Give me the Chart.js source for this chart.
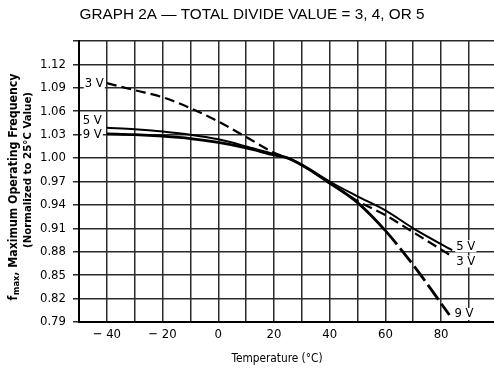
<!DOCTYPE html>
<html>
<head>
<meta charset="utf-8">
<script src="https://cdn.jsdelivr.net/npm/chart.js@4"></script>
<style>
  html, body { margin: 0; padding: 0; background: #fff; }
  #wrap { width: 494px; height: 368px; }
</style>
</head>
<body>
<div id="wrap"><canvas id="c" width="494" height="368"></canvas></div>
<script>
// Text
const chartTitle = 'GRAPH 2A \u2014 TOTAL DIVIDE VALUE = 3, 4, OR 5';
const xAxisTitle = 'Temperature (\u00B0C)';
const yTitleSymbol = 'f';
const yTitleSubscript = 'max';
const yTitleRest = ', Maximum Operating Frequency';
const yTitleLine2 = '(Normalized to 25\u00B0C Value)';

// Ticks
const xTickValues = [-40, -20, 0, 20, 40, 60, 80];
const xTickLabels = ['\u2212 40', '\u2212 20', '0', '20', '40', '60', '80'];
const yTickValues = [0.79, 0.82, 0.85, 0.88, 0.91, 0.94, 0.97, 1.00, 1.03, 1.06, 1.09, 1.12];
const yTickLabels = ['0.79', '0.82', '0.85', '0.88', '0.91', '0.94', '0.97', '1.00', '1.03', '1.06', '1.09', '1.12'];

// Series: supply voltage curves, fmax normalized to 25 °C
const seriesNames = ['3 V', '5 V', '9 V'];
const temp3V = [-40, -30, -20, -10, 0, 10, 20, 25, 30, 40, 50, 60, 70, 84];
const fmax3V = [1.096, 1.087, 1.078, 1.064, 1.047, 1.027, 1.007, 1.000, 0.991, 0.968, 0.945, 0.927, 0.905, 0.874];
const temp5V = [-40, -30, -20, -10, 0, 10, 20, 25, 30, 40, 50, 60, 70, 84];
const fmax5V = [1.039, 1.037, 1.034, 1.030, 1.024, 1.015, 1.005, 1.000, 0.992, 0.970, 0.951, 0.933, 0.910, 0.882];
const temp9V = [-40, -30, -20, -10, 0, 10, 20, 25, 30, 40, 50, 60, 70, 83];
const fmax9V = [1.031, 1.030, 1.028, 1.025, 1.020, 1.013, 1.004, 1.000, 0.991, 0.968, 0.943, 0.907, 0.863, 0.799];

const FONT_NARROW = "'Liberation Sans Narrow', 'DejaVu Sans Condensed', 'Liberation Sans', sans-serif";
const FONT_REG = "'Liberation Sans', Arial, sans-serif";

function pts(xs, ys) { return xs.map((t, i) => ({ x: t, y: ys[i] })); }

// Draws a text run squeezed horizontally to a given width
function fitText(ctx, text, x, y, width) {
  const w = ctx.measureText(text).width;
  ctx.save();
  ctx.translate(x, y);
  ctx.scale(width / w, 1);
  ctx.fillText(text, 0, 0);
  ctx.restore();
}

const textPlugin = {
  id: 'texts',
  afterDraw(chart) {
    const ctx = chart.ctx;
    ctx.save();
    ctx.fillStyle = '#000';

    // Title
    ctx.font = '15px ' + FONT_REG;
    ctx.textAlign = 'center';
    ctx.textBaseline = 'middle';
    fitText(ctx, chartTitle, 252, 15, 345);

    // X axis title
    ctx.font = '12px ' + FONT_NARROW;
    fitText(ctx, xAxisTitle, 277, 359, 91);

    // Y axis title (rotated, two lines)
    ctx.save();
    ctx.translate(14, 187);
    ctx.rotate(-Math.PI / 2);
    const bigFont = 'bold 12px ' + FONT_NARROW;
    const subFont = 'bold 9px ' + FONT_NARROW;
    ctx.font = bigFont;
    const w1 = ctx.measureText(yTitleSymbol).width;
    const w3 = ctx.measureText(yTitleRest).width;
    ctx.font = subFont;
    const w2 = ctx.measureText(yTitleSubscript).width;
    const total = w1 + w2 + w3 + 0.5;
    const k = 227 / total;
    ctx.scale(k, 1);
    let x0 = -total / 2;
    ctx.textAlign = 'left';
    ctx.textBaseline = 'middle';
    ctx.font = bigFont;
    ctx.fillText(yTitleSymbol, x0, 0);
    ctx.font = subFont;
    ctx.fillText(yTitleSubscript, x0 + w1 + 0.5, 3);
    ctx.font = bigFont;
    ctx.fillText(yTitleRest, x0 + w1 + w2 + 0.5, 0);
    ctx.restore();

    ctx.save();
    ctx.translate(28, 170);
    ctx.rotate(-Math.PI / 2);
    ctx.font = 'bold 11px ' + FONT_NARROW;
    ctx.textAlign = 'center';
    ctx.textBaseline = 'middle';
    fitText(ctx, yTitleLine2, 0, 0, 156);
    ctx.restore();

    // Curve labels at both ends of each line
    ctx.font = '13px ' + FONT_NARROW;
    ctx.textBaseline = 'middle';
    const startOffsets = [[-3, 0], [-5, -7], [-5, 1]];
    const endOffsets = [[4, 5], [4, -4], [5, -1]];
    chart.data.datasets.forEach((ds, i) => {
      const meta = chart.getDatasetMeta(i);
      const first = meta.data[0];
      const last = meta.data[meta.data.length - 1];
      const name = seriesNames[i];
      const w = ctx.measureText(name).width;
      ctx.textAlign = 'left';
      // left label, right-aligned to the start of the curve
      const lx = first.x + startOffsets[i][0] - w;
      const ly = first.y + startOffsets[i][1];
      ctx.fillStyle = '#fff';
      ctx.fillRect(lx - 1, ly - 6, w + 2, 12);
      ctx.fillStyle = '#000';
      ctx.fillText(name, lx, ly);
      // right label after the end of the curve
      const rx = last.x + endOffsets[i][0];
      const ry = last.y + endOffsets[i][1];
      ctx.fillStyle = '#fff';
      ctx.fillRect(rx - 1, ry - 6, w + 2, 12);
      ctx.fillStyle = '#000';
      ctx.fillText(name, rx, ry);
    });
    ctx.restore();
  }
};

new Chart(document.getElementById('c'), {
  type: 'line',
  data: {
    datasets: [
      {
        label: seriesNames[0],
        data: pts(temp3V, fmax3V),
        borderColor: '#000',
        borderWidth: 2.2,
        borderDash: [10, 5],
        pointRadius: 0,
        cubicInterpolationMode: 'monotone'
      },
      {
        label: seriesNames[1],
        data: pts(temp5V, fmax5V),
        borderColor: '#000',
        borderWidth: 2,
        pointRadius: 0,
        cubicInterpolationMode: 'monotone'
      },
      {
        label: seriesNames[2],
        data: pts(temp9V, fmax9V),
        borderColor: '#000',
        borderWidth: 2.8,
        pointRadius: 0,
        cubicInterpolationMode: 'monotone',
        segment: {
          borderDash: c => (c.p0.parsed.x >= 60 ? [18, 5] : undefined)
        }
      }
    ]
  },
  options: {
    responsive: false,
    animation: false,
    devicePixelRatio: 1,
    layout: { padding: { top: 41, left: 0, right: 0, bottom: 0 } },
    plugins: {
      legend: { display: false },
      title: { display: false },
      tooltip: { enabled: false }
    },
    scales: {
      x: {
        type: 'linear',
        min: -50,
        max: 99,
        afterFit: s => { s.height = 46; },
        border: { display: true, color: '#000', width: 2 },
        grid: { color: '#2a2a2a', lineWidth: 1.5, drawTicks: false },
        ticks: {
          stepSize: 10,
          includeBounds: false,
          autoSkip: false,
          maxRotation: 0,
          padding: 5,
          color: '#000',
          font: { family: FONT_NARROW, size: 13 },
          callback: v => {
            const i = xTickValues.indexOf(Math.round(v));
            return i >= 0 && Math.abs(v - xTickValues[i]) < 1e-6 ? xTickLabels[i] : '';
          }
        }
      },
      y: {
        min: 0.79,
        max: 1.15,
        afterFit: s => { s.width = 79; },
        border: { display: true, color: '#000', width: 2 },
        grid: { color: '#2a2a2a', lineWidth: 1.5, tickLength: 6 },
        ticks: {
          stepSize: 0.03,
          autoSkip: false,
          padding: 7,
          color: '#000',
          font: { family: FONT_NARROW, size: 13 },
          callback: v => {
            const i = yTickValues.findIndex(t => Math.abs(t - v) < 1e-6);
            return i >= 0 ? yTickLabels[i] : '';
          }
        }
      }
    }
  },
  plugins: [textPlugin]
});
</script>
</body>
</html>
